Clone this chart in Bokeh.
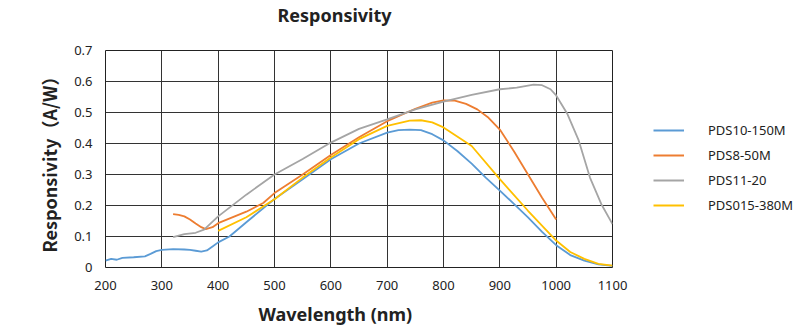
from bokeh.plotting import figure
from bokeh.models import Legend, LegendItem, FixedTicker, Range1d, Title
from bokeh.layouts import row
from bokeh.embed import file_html
from bokeh.resources import INLINE

# ---- data ----
wl_blue = [200, 210, 220, 230, 250, 270, 280, 290, 300, 320, 340, 350, 360, 370, 380, 390, 400, 420, 450, 500,
           550, 600, 650, 700, 720, 740, 760, 780, 800, 825, 850, 875, 900, 925, 950, 975, 1000, 1025, 1050, 1075, 1100]
r_blue = [0.022, 0.028, 0.025, 0.031, 0.033, 0.036, 0.044, 0.053, 0.057, 0.059, 0.058, 0.057, 0.054, 0.051, 0.055, 0.068,
          0.081, 0.100, 0.146, 0.221, 0.285, 0.349, 0.400, 0.435, 0.443, 0.445, 0.443, 0.430, 0.410, 0.375, 0.335, 0.290,
          0.248, 0.205, 0.162, 0.115, 0.072, 0.040, 0.022, 0.010, 0.005]

wl_orange = [320, 330, 340, 350, 360, 370, 378, 390, 400, 450, 480, 500, 550, 600, 650, 700, 750, 780, 800, 820, 840,
             860, 880, 900, 925, 950, 975, 1000]
r_orange = [0.172, 0.170, 0.165, 0.155, 0.142, 0.130, 0.124, 0.130, 0.143, 0.180, 0.208, 0.240, 0.300, 0.363, 0.420,
            0.472, 0.512, 0.532, 0.539, 0.538, 0.528, 0.510, 0.483, 0.445, 0.375, 0.300, 0.225, 0.155]

wl_gray = [320, 340, 360, 375, 400, 450, 500, 550, 600, 650, 700, 750, 800, 850, 900, 930, 960, 975, 990, 1000, 1020,
           1040, 1060, 1080, 1100]
r_gray = [0.098, 0.108, 0.112, 0.122, 0.165, 0.235, 0.300, 0.350, 0.403, 0.447, 0.478, 0.510, 0.535, 0.557, 0.575,
          0.580, 0.590, 0.588, 0.575, 0.555, 0.495, 0.410, 0.290, 0.205, 0.140]

wl_yellow = [400, 450, 500, 550, 600, 650, 700, 740, 760, 780, 800, 850, 900, 950, 1000, 1025, 1050, 1075, 1100]
r_yellow = [0.118, 0.162, 0.220, 0.290, 0.355, 0.414, 0.457, 0.474, 0.475, 0.468, 0.452, 0.392, 0.285, 0.183, 0.087,
            0.050, 0.028, 0.012, 0.006]

series_names = ["PDS10-150M", "PDS8-50M", "PDS11-20", "PDS015-380M"]
series_colors = ["#5B9BD5", "#ED7D31", "#A5A5A5", "#FFC000"]
series_wl = [wl_blue, wl_orange, wl_gray, wl_yellow]
series_r = [r_blue, r_orange, r_gray, r_yellow]

x_ticks = [200, 300, 400, 500, 600, 700, 800, 900, 1000, 1100]
y_ticks = [0, 0.1, 0.2, 0.3, 0.4, 0.5, 0.6, 0.7]
y_tick_labels = ["0", "0.1", "0.2", "0.3", "0.4", "0.5", "0.6", "0.7"]

FONT = "Noto Sans"
CJK = "Noto Sans CJK SC"
TXT = "#222222"

P_W = 630
p = figure(width=P_W, height=333, output_backend="svg", toolbar_location=None,
           x_range=Range1d(200, 1100), y_range=Range1d(0, 0.7),
           min_border_left=105, min_border_right=P_W - 612, min_border_top=49, min_border_bottom=66)
p.title = None

# spacer (closest to frame) then the real title above it
p.add_layout(Title(text=" ", text_font=FONT, text_font_size="10px", standoff=8), "above")
p.add_layout(Title(text="Responsivity", align="left", offset=172, text_font=FONT, text_font_size="18px",
                   text_font_style="bold", text_color=TXT, standoff=0), "above")

for wl, r, c in zip(series_wl, series_r, series_colors):
    p.line(wl, r, line_color=c, line_width=1.8)

p.xaxis.ticker = FixedTicker(ticks=x_ticks)
p.yaxis.ticker = FixedTicker(ticks=y_ticks)
p.yaxis.major_label_overrides = {v: s for v, s in zip(y_ticks, y_tick_labels)}
for ax in (p.xaxis, p.yaxis):
    ax.axis_line_color = None
    ax.major_tick_line_color = None
    ax.minor_tick_line_color = None
    ax.major_label_text_font = FONT
    ax.major_label_text_font_size = "13px"
    ax.major_label_text_color = TXT
p.xaxis.major_label_standoff = 7
p.yaxis.major_label_standoff = 7

p.add_layout(Title(text="Responsivity（A/W）", align="left", offset=15, text_font=CJK, text_font_size="18px",
                   text_font_style="bold", text_color=TXT, standoff=19), "left")
p.add_layout(Title(text="Wavelength (nm)", align="left", offset=153, text_font=FONT, text_font_size="18px",
                   text_font_style="bold", text_color=TXT, standoff=15), "below")

p.xgrid.grid_line_color = "#333333"
p.ygrid.grid_line_color = "#333333"
p.outline_line_color = "#222222"
p.outline_line_width = 1

# legend panel: same series drawn off-range, only the legend is visible
p2 = figure(width=804 - P_W, height=333, output_backend="svg", toolbar_location=None,
            x_range=Range1d(0, 1), y_range=Range1d(0, 1), min_border=0)
p2.axis.visible = False
p2.grid.visible = False
p2.outline_line_color = None
leg_r = [p2.line(wl, r, line_color=c, line_width=2) for wl, r, c in zip(series_wl, series_r, series_colors)]
legend = Legend(items=[LegendItem(label=n, renderers=[r]) for n, r in zip(series_names, leg_r)],
                location=(653 - P_W, 52), border_line_color=None, background_fill_alpha=0,
                padding=0, margin=0, spacing=5, glyph_width=31, glyph_height=20, label_height=20,
                label_standoff=24, label_text_font=FONT, label_text_font_size="13px", label_text_color=TXT)
p2.add_layout(legend, "center")

open("out.html", "w").write(file_html(row(p, p2), INLINE))
